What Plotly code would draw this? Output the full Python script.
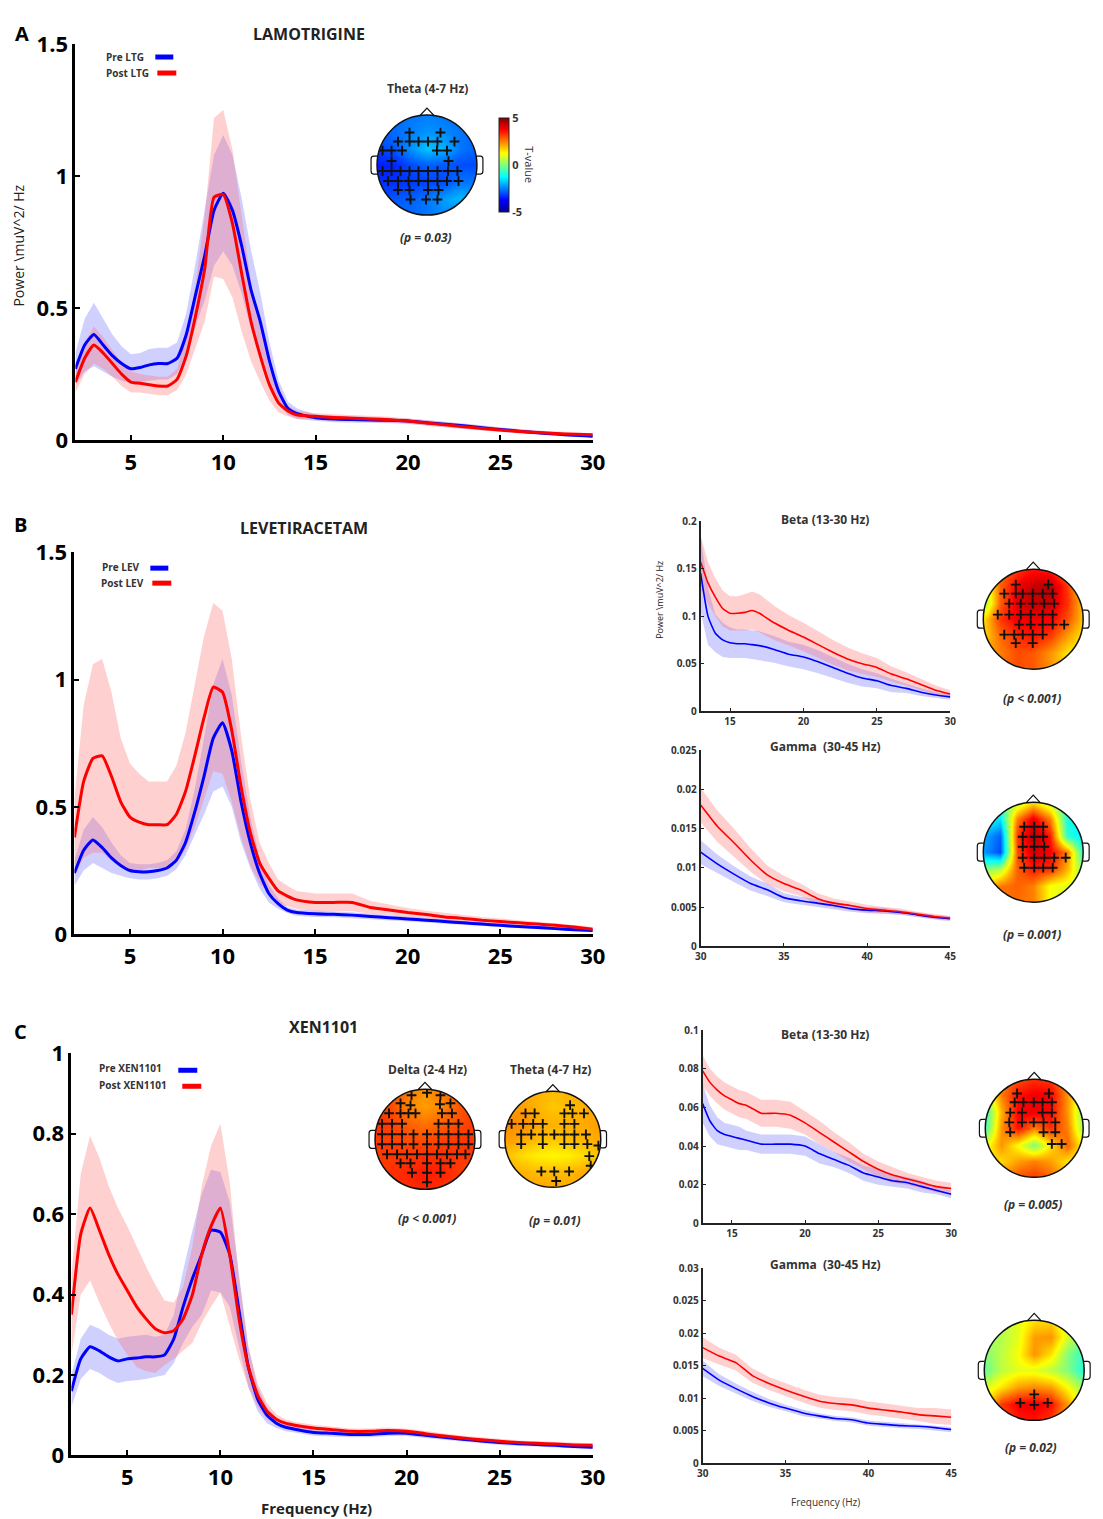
import math
import plotly.graph_objects as go

W, H = 1103, 1519
FONT = "Open Sans"

# ---------------- DATA ----------------
F_MAIN = [2, 2.5, 3, 3.5, 4, 4.5, 5, 5.5, 6, 6.5, 7, 7.5, 8, 8.5, 9, 9.5, 10, 10.5, 11, 11.5,
          12, 12.5, 13, 13.5, 14, 15, 16, 17, 18, 19, 20, 21, 22, 23, 24, 25, 26, 27, 28, 29, 30]

A_PRE = [0.27, 0.36, 0.40, 0.36, 0.32, 0.29, 0.27, 0.275, 0.285, 0.29, 0.29, 0.31, 0.40, 0.55, 0.70, 0.87,
         0.935, 0.87, 0.735, 0.57, 0.45, 0.30, 0.185, 0.12, 0.10, 0.085, 0.08, 0.078, 0.076, 0.075, 0.072,
         0.066, 0.06, 0.054, 0.047, 0.04, 0.034, 0.028, 0.023, 0.018, 0.015]
A_PRE_SEM = [0.06, 0.1, 0.12, 0.1, 0.08, 0.065, 0.055, 0.055, 0.06, 0.06, 0.06, 0.06, 0.08, 0.12, 0.17, 0.21,
             0.22, 0.21, 0.18, 0.15, 0.11, 0.07, 0.04, 0.025, 0.02, 0.012, 0.012, 0.012, 0.011, 0.011, 0.01,
             0.01, 0.01, 0.009, 0.009, 0.008, 0.008, 0.007, 0.007, 0.006, 0.006]
A_POST = [0.22, 0.31, 0.36, 0.33, 0.29, 0.25, 0.22, 0.215, 0.21, 0.205, 0.205, 0.23, 0.32, 0.47, 0.65, 0.92,
          0.93, 0.82, 0.63, 0.45, 0.32, 0.21, 0.14, 0.11, 0.095, 0.09, 0.086, 0.083, 0.08, 0.077, 0.072,
          0.065, 0.058, 0.051, 0.044, 0.038, 0.033, 0.029, 0.025, 0.022, 0.02]
A_POST_SEM = [0.04, 0.06, 0.07, 0.06, 0.05, 0.045, 0.04, 0.035, 0.035, 0.035, 0.035, 0.04, 0.07, 0.12, 0.2, 0.3,
              0.32, 0.28, 0.22, 0.15, 0.1, 0.06, 0.035, 0.02, 0.015, 0.012, 0.012, 0.012, 0.011, 0.011, 0.01,
              0.01, 0.01, 0.009, 0.009, 0.008, 0.008, 0.007, 0.007, 0.006, 0.006]

B_PRE = [0.24, 0.33, 0.37, 0.34, 0.30, 0.27, 0.25, 0.245, 0.245, 0.25, 0.26, 0.29, 0.36, 0.48, 0.62, 0.77,
         0.83, 0.72, 0.52, 0.36, 0.24, 0.16, 0.12, 0.095, 0.085, 0.08, 0.078, 0.075, 0.07, 0.065, 0.06,
         0.055, 0.05, 0.045, 0.04, 0.035, 0.03, 0.026, 0.022, 0.018, 0.015]
B_PRE_SEM = [0.05, 0.08, 0.09, 0.08, 0.06, 0.04, 0.03, 0.03, 0.03, 0.03, 0.03, 0.035, 0.05, 0.09, 0.15, 0.21,
             0.25, 0.22, 0.16, 0.1, 0.06, 0.035, 0.02, 0.012, 0.012, 0.012, 0.011, 0.011, 0.01, 0.01, 0.01,
             0.009, 0.009, 0.008, 0.008, 0.008, 0.007, 0.007, 0.006, 0.006, 0.006]
B_POST = [0.38, 0.6, 0.69, 0.70, 0.62, 0.52, 0.46, 0.44, 0.43, 0.43, 0.43, 0.47, 0.56, 0.70, 0.85, 0.97,
          0.95, 0.80, 0.58, 0.40, 0.28, 0.22, 0.17, 0.15, 0.135, 0.125, 0.125, 0.125, 0.105, 0.095, 0.085,
          0.077, 0.068, 0.062, 0.055, 0.05, 0.045, 0.04, 0.035, 0.028, 0.02]
B_POST_SEM = [0.15, 0.3, 0.37, 0.38, 0.33, 0.25, 0.21, 0.19, 0.17, 0.17, 0.17, 0.19, 0.23, 0.28, 0.32, 0.33,
              0.32, 0.28, 0.2, 0.13, 0.08, 0.06, 0.045, 0.04, 0.035, 0.035, 0.035, 0.035, 0.025, 0.02, 0.018,
              0.015, 0.015, 0.014, 0.013, 0.012, 0.011, 0.01, 0.009, 0.008, 0.008]

C_PRE = [0.16, 0.24, 0.27, 0.26, 0.245, 0.235, 0.24, 0.242, 0.245, 0.245, 0.25, 0.29, 0.37, 0.44, 0.50, 0.56,
         0.555, 0.50, 0.36, 0.22, 0.14, 0.10, 0.08, 0.07, 0.065, 0.057, 0.055, 0.052, 0.052, 0.055, 0.055,
         0.05, 0.045, 0.04, 0.036, 0.032, 0.029, 0.027, 0.025, 0.022, 0.02]
C_PRE_SEM = [0.04, 0.05, 0.055, 0.055, 0.055, 0.055, 0.055, 0.055, 0.055, 0.05, 0.05, 0.06, 0.09, 0.12, 0.15, 0.15,
             0.15, 0.13, 0.09, 0.05, 0.03, 0.02, 0.012, 0.01, 0.008, 0.008, 0.008, 0.007, 0.007, 0.007, 0.007,
             0.007, 0.006, 0.006, 0.006, 0.006, 0.005, 0.005, 0.005, 0.005, 0.005]
C_POST = [0.35, 0.55, 0.615, 0.56, 0.50, 0.45, 0.41, 0.37, 0.34, 0.315, 0.305, 0.31, 0.34, 0.40, 0.50, 0.57,
          0.615, 0.50, 0.34, 0.22, 0.15, 0.11, 0.09, 0.08, 0.075, 0.068, 0.064, 0.06, 0.06, 0.062, 0.06,
          0.054, 0.048, 0.043, 0.039, 0.035, 0.032, 0.03, 0.028, 0.026, 0.025]
C_POST_SEM = [0.1, 0.15, 0.18, 0.18, 0.17, 0.165, 0.16, 0.15, 0.13, 0.11, 0.08, 0.07, 0.08, 0.12, 0.17, 0.2,
              0.21, 0.18, 0.1, 0.05, 0.03, 0.02, 0.012, 0.01, 0.008, 0.008, 0.008, 0.007, 0.007, 0.007, 0.007,
              0.007, 0.006, 0.006, 0.006, 0.006, 0.005, 0.005, 0.005, 0.005, 0.005]

F_BETA = [13, 13.5, 14, 14.5, 15, 15.5, 16, 16.5, 17, 18, 19, 20, 21, 22, 23, 24, 25, 26, 27, 28, 29, 30]
BB_POST = [0.157, 0.135, 0.12, 0.108, 0.103, 0.103, 0.104, 0.106, 0.103, 0.093, 0.085, 0.078, 0.07, 0.062,
           0.055, 0.05, 0.046, 0.039, 0.034, 0.028, 0.022, 0.018]
BB_POST_SEM = [0.028, 0.022, 0.02, 0.019, 0.018, 0.018, 0.019, 0.02, 0.02, 0.018, 0.016, 0.015, 0.014, 0.013,
               0.012, 0.011, 0.01, 0.008, 0.007, 0.006, 0.005, 0.004]
BB_PRE = [0.145, 0.10, 0.082, 0.075, 0.072, 0.071, 0.071, 0.07, 0.069, 0.065, 0.06, 0.057, 0.052, 0.046,
          0.04, 0.035, 0.032, 0.027, 0.024, 0.02, 0.017, 0.015]
BB_PRE_SEM = [0.04, 0.03, 0.02, 0.018, 0.016, 0.015, 0.015, 0.015, 0.015, 0.014, 0.013, 0.013, 0.012, 0.011,
              0.01, 0.009, 0.008, 0.007, 0.005, 0.004, 0.003, 0.003]

CB_POST = [0.079, 0.073, 0.069, 0.066, 0.064, 0.062, 0.061, 0.059, 0.057, 0.057, 0.056, 0.052, 0.047, 0.042,
           0.037, 0.032, 0.028, 0.025, 0.023, 0.021, 0.019, 0.018]
CB_POST_SEM = [0.008, 0.007, 0.007, 0.007, 0.007, 0.007, 0.007, 0.007, 0.007, 0.007, 0.007, 0.006, 0.006,
               0.005, 0.005, 0.004, 0.004, 0.004, 0.003, 0.003, 0.003, 0.003]
CB_PRE = [0.062, 0.053, 0.048, 0.046, 0.045, 0.044, 0.043, 0.042, 0.041, 0.041, 0.041, 0.04, 0.036, 0.033,
          0.03, 0.026, 0.024, 0.022, 0.021, 0.019, 0.017, 0.015]
CB_PRE_SEM = [0.01, 0.008, 0.007, 0.006, 0.006, 0.006, 0.005, 0.005, 0.005, 0.005, 0.005, 0.005, 0.005,
              0.004, 0.004, 0.004, 0.004, 0.003, 0.003, 0.003, 0.002, 0.002]

F_GAMMA = [30, 31, 32, 33, 34, 35, 36, 37, 38, 39, 40, 41, 42, 43, 44, 45]
BG_POST = [0.018, 0.0153, 0.0132, 0.011, 0.0091, 0.008, 0.0072, 0.0061, 0.0055, 0.0052, 0.0048, 0.0046,
           0.0044, 0.0041, 0.0038, 0.0036]
BG_POST_SEM = [0.0022, 0.002, 0.0018, 0.0015, 0.0012, 0.001, 0.0008, 0.0007, 0.0006, 0.0005, 0.0005, 0.0004,
               0.0004, 0.0003, 0.0003, 0.0003]
BG_PRE = [0.012, 0.0105, 0.0092, 0.008, 0.0072, 0.0062, 0.0058, 0.0055, 0.0052, 0.0048, 0.0046, 0.0045,
          0.0043, 0.004, 0.0037, 0.0035]
BG_PRE_SEM = [0.0015, 0.0012, 0.001, 0.0009, 0.0008, 0.0006, 0.0005, 0.0005, 0.0005, 0.0004, 0.0004, 0.0004,
              0.0003, 0.0003, 0.0003, 0.0003]
CG_POST = [0.0178, 0.0165, 0.0155, 0.0135, 0.0123, 0.0113, 0.0104, 0.0096, 0.0092, 0.009, 0.0085, 0.0082,
           0.0079, 0.0075, 0.0073, 0.0071]
CG_POST_SEM = [0.0016, 0.0013, 0.0012, 0.0011, 0.001, 0.001, 0.001, 0.001, 0.001, 0.001, 0.001, 0.001,
               0.001, 0.001, 0.0012, 0.0012]
CG_PRE = [0.0146, 0.0128, 0.0115, 0.0103, 0.0093, 0.0085, 0.0078, 0.0073, 0.0069, 0.0067, 0.0062, 0.006,
          0.0058, 0.0057, 0.0055, 0.0052]
CG_PRE_SEM = [0.0012, 0.0009, 0.0008, 0.0007, 0.0006, 0.0005, 0.0005, 0.0004, 0.0004, 0.0004, 0.0004,
              0.0004, 0.0004, 0.0004, 0.0004, 0.0004]

# Topography: coarse grids of T-values (rows listed top -> bottom), electrode marks
TOPO_GRID = [-1, -0.667, -0.333, 0, 0.333, 0.667, 1]
TOPO_A_THETA = [[-2.7, -2.7, -2.6, -2.5, -2.6, -2.7, -2.7],
                [-2.8, -2.7, -2.5, -2.3, -2.4, -2.6, -2.8],
                [-3.1, -2.9, -2.3, -1.8, -2.0, -2.6, -2.8],
                [-3.5, -3.4, -3.0, -2.8, -2.9, -3.0, -3.0],
                [-3.3, -3.3, -3.2, -3.1, -3.0, -2.6, -2.6],
                [-2.9, -2.9, -2.8, -2.6, -2.2, -1.9, -2.2],
                [-2.7, -2.7, -2.7, -2.6, -2.4, -2.4, -2.6]]
TOPO_B_BETA = [[1.5, 2.5, 3.2, 3.6, 3.4, 2.5, 1.5],
               [0.3, 2.8, 3.8, 4.3, 4.5, 3.2, 1.5],
               [0.0, 2.8, 4.0, 4.4, 4.2, 3.3, 1.8],
               [1.5, 3.2, 3.9, 3.9, 3.8, 3.0, 1.8],
               [1.6, 2.7, 3.3, 3.6, 3.2, 2.2, 1.5],
               [2.0, 2.5, 3.0, 2.9, 2.3, 1.5, 1.3],
               [2.2, 2.6, 3.0, 2.9, 2.3, 1.6, 1.5]]
TOPO_B_GAMMA = [[-0.5, -0.5, 0.5, 1.5, 0.5, -0.8, -1.2],
                [-1.0, -1.5, 2.5, 4.0, 2.5, -1.0, -1.5],
                [-2.0, -2.8, 3.2, 4.5, 3.5, -0.8, -1.5],
                [-2.2, -3.0, 3.0, 4.2, 3.8, 2.5, -1.0],
                [0.0, 0.5, 2.8, 3.5, 3.3, 2.0, 0.0],
                [1.5, 2.6, 2.8, 2.5, 1.2, 1.0, 0.5],
                [2.0, 2.6, 2.7, 2.5, 1.2, 0.8, 0.5]]
TOPO_C_DELTA = [[3.1, 3.0, 2.6, 2.3, 2.6, 3.0, 3.1],
                [3.3, 3.0, 2.4, 2.2, 2.4, 2.9, 3.2],
                [3.3, 3.1, 2.8, 2.6, 2.8, 3.0, 3.2],
                [3.2, 3.1, 3.0, 3.0, 3.1, 3.2, 3.2],
                [3.2, 3.2, 3.2, 3.3, 3.3, 3.2, 3.2],
                [3.1, 3.3, 3.4, 3.5, 3.4, 3.2, 3.0],
                [3.0, 3.2, 3.3, 3.4, 3.3, 3.1, 3.0]]
TOPO_C_THETA = [[2.1, 2.1, 2.0, 1.9, 2.0, 2.1, 2.1],
                [2.2, 2.2, 2.0, 1.8, 1.9, 2.0, 2.2],
                [2.4, 2.4, 2.1, 2.0, 2.0, 2.1, 2.2],
                [2.2, 2.1, 1.9, 1.8, 1.9, 2.0, 2.1],
                [1.9, 1.6, 1.4, 1.3, 1.4, 1.6, 1.9],
                [2.1, 2.0, 1.9, 1.9, 1.9, 2.1, 2.3],
                [2.2, 2.2, 2.1, 2.1, 2.1, 2.2, 2.2]]
TOPO_C_BETA = [[1.5, 2.5, 3.0, 3.3, 3.2, 2.5, 1.5],
               [0.5, 2.5, 3.6, 3.9, 3.8, 2.3, 0.5],
               [-0.8, 2.0, 3.8, 3.9, 3.7, 2.3, 0.0],
               [-0.6, 2.3, 3.6, 2.5, 3.3, 2.5, 0.2],
               [1.0, 2.3, 1.2, 0.0, 1.5, 2.8, 1.2],
               [1.5, 1.6, 2.2, 2.5, 2.2, 1.5, 1.2],
               [1.8, 2.4, 3.0, 3.2, 2.8, 1.8, 1.5]]
TOPO_C_GAMMA = [[0.5, 0.5, 1.0, 1.5, 1.6, 0.8, 0.3],
                [0.3, 0.5, 1.0, 2.2, 2.3, 0.8, 0.0],
                [0.0, 0.6, 1.2, 2.3, 1.5, 0.0, -0.8],
                [-0.3, 0.6, 1.0, 1.0, 0.6, 0.0, -1.0],
                [0.8, 1.5, 2.2, 2.4, 2.2, 1.2, 0.2],
                [1.2, 3.2, 3.8, 3.9, 3.6, 2.2, 0.5],
                [1.2, 2.8, 3.5, 3.6, 3.2, 1.8, 0.8]]

EL_A_THETA = [(-0.35, 0.65), (0.27, 0.65),
              (-0.58, 0.47), (-0.35, 0.47), (-0.17, 0.47), (0.02, 0.47), (0.21, 0.47), (0.55, 0.47),
              (-0.89, 0.29), (-0.71, 0.29), (-0.5, 0.29), (0.2, 0.29), (0.4, 0.29),
              (-0.71, 0.08), (0.43, 0.08),
              (-0.89, -0.12), (-0.71, -0.12), (-0.53, -0.12), (-0.35, -0.12), (-0.17, -0.12), (0.02, -0.12),
              (0.21, -0.12), (0.42, -0.12), (0.61, -0.12),
              (-0.78, -0.32), (-0.58, -0.32), (-0.37, -0.32), (-0.17, -0.32), (0.02, -0.32), (0.21, -0.32),
              (0.4, -0.32), (0.63, -0.32),
              (-0.58, -0.5), (-0.35, -0.5), (0.02, -0.5), (0.23, -0.5),
              (-0.33, -0.69), (-0.02, -0.69), (0.21, -0.69)]
EL_B_BETA = [(-0.35, 0.69), (0.3, 0.69),
             (-0.58, 0.51), (-0.35, 0.51), (-0.21, 0.51), (-0.01, 0.51), (0.19, 0.51), (0.39, 0.51),
             (-0.48, 0.31), (-0.25, 0.31), (-0.01, 0.31), (0.22, 0.31), (0.42, 0.31),
             (-0.71, 0.09), (-0.48, 0.09), (-0.25, 0.09), (-0.05, 0.09), (0.19, 0.09), (0.39, 0.09),
             (-0.28, -0.11), (-0.05, -0.11), (0.19, -0.11), (0.39, -0.11), (0.62, -0.11),
             (-0.58, -0.31), (-0.38, -0.31), (-0.21, -0.31), (-0.01, -0.31), (0.19, -0.31),
             (-0.35, -0.48), (-0.01, -0.48)]
EL_B_GAMMA = [(-0.18, 0.51), (0.02, 0.51), (0.2, 0.51),
              (-0.21, 0.31), (0.02, 0.31), (0.2, 0.31),
              (-0.21, 0.11), (0.02, 0.11), (0.22, 0.11),
              (-0.21, -0.11), (0.02, -0.11), (0.22, -0.11), (0.42, -0.11), (0.65, -0.11),
              (-0.18, -0.31), (0.02, -0.31), (0.2, -0.31), (0.39, -0.31)]
EL_C_DELTA = [(0.04, 0.93), (-0.27, 0.88), (0.31, 0.88),
              (-0.49, 0.72), (-0.29, 0.68), (0.30, 0.70), (0.51, 0.72),
              (-0.72, 0.52), (-0.49, 0.52), (-0.33, 0.52), (-0.19, 0.52), (0.34, 0.52), (0.54, 0.52),
              (-0.86, 0.31), (-0.66, 0.31), (-0.46, 0.31), (0.27, 0.31), (0.47, 0.31), (0.67, 0.31),
              (-0.86, 0.10), (-0.66, 0.10), (-0.46, 0.10), (-0.23, 0.10), (0.04, 0.10), (0.27, 0.10),
              (0.47, 0.10), (0.67, 0.10), (0.87, 0.10),
              (-0.86, -0.10), (-0.66, -0.10), (-0.46, -0.10), (-0.23, -0.10), (0.04, -0.10), (0.27, -0.10),
              (0.47, -0.10), (0.67, -0.10), (0.87, -0.10),
              (-0.76, -0.30), (-0.56, -0.30), (-0.36, -0.30), (-0.16, -0.30), (0.04, -0.30), (0.24, -0.30),
              (0.44, -0.30), (0.64, -0.30), (0.81, -0.30),
              (-0.49, -0.48), (-0.29, -0.48), (0.04, -0.48), (0.31, -0.48), (0.51, -0.48),
              (-0.26, -0.67), (0.04, -0.67), (0.31, -0.67),
              (0.04, -0.86)]
EL_C_THETA = [(0.36, 0.71),
              (-0.57, 0.54), (-0.38, 0.54), (0.24, 0.54), (0.41, 0.54), (0.65, 0.54),
              (-0.86, 0.32), (-0.62, 0.32), (-0.41, 0.32), (-0.21, 0.32), (0.24, 0.32), (0.45, 0.32),
              (-0.66, 0.10), (-0.45, 0.10), (-0.21, 0.10), (0.03, 0.10), (0.24, 0.10), (0.45, 0.10), (0.69, 0.10),
              (-0.66, -0.10), (-0.21, -0.10), (0.24, -0.10), (0.45, -0.10), (0.72, -0.10), (0.95, -0.13),
              (0.76, -0.35), (0.79, -0.55),
              (-0.24, -0.67), (0.03, -0.67), (0.34, -0.67),
              (0.07, -0.87)]
EL_C_BETA = [(-0.35, 0.71), (0.30, 0.71),
             (-0.40, 0.53), (-0.22, 0.53), (-0.01, 0.53), (0.17, 0.53), (0.36, 0.53),
             (-0.49, 0.32), (-0.25, 0.32), (0.17, 0.32), (0.36, 0.32),
             (-0.51, 0.12), (-0.25, 0.12), (-0.01, 0.12), (0.19, 0.12), (0.43, 0.12),
             (-0.49, -0.08), (0.19, -0.08), (0.43, -0.08),
             (0.36, -0.32), (0.56, -0.32)]
EL_C_GAMMA = [(0.0, -0.48), (-0.28, -0.65), (0.0, -0.69), (0.27, -0.65)]

# MATLAB-style jet
JET = [[0, "rgb(0,0,143)"], [0.125, "rgb(0,0,255)"], [0.375, "rgb(0,255,255)"],
       [0.625, "rgb(255,255,0)"], [0.875, "rgb(255,0,0)"], [1, "rgb(128,0,0)"]]

# ---------------- FIGURE ----------------
fig = go.Figure()
layout = {}
shapes = []
annotations = []

PRE_LINE = "rgb(0,0,255)"
POST_LINE = "rgb(255,0,0)"
PRE_BAND = "rgba(100,100,255,0.30)"
POST_BAND = "rgba(255,100,100,0.30)"

# page placement compensation (observed render offset/scale)
SX, OX = 0.984, 13.5
SY, OY = 0.98, 24.0


def PX(x):
    return (x - OX) / SX


def PY(y):
    return (y - OY) / SY


def xdom(x0, x1):
    return [max(0, PX(x0) / W), min(1, PX(x1) / W)]


def ydom(y0, y1):
    return [max(0, 1 - PY(y1) / H), min(1, 1 - PY(y0) / H)]


def set_axes(i, xd, yd, xo, yo):
    s = "" if i == 1 else str(i)
    layout["xaxis" + s] = dict(domain=xd, anchor="y" + s, **xo)
    layout["yaxis" + s] = dict(domain=yd, anchor="x" + s, **yo)


def axref(i):
    return ("x" if i == 1 else "x%d" % i), ("y" if i == 1 else "y%d" % i)


def add_band_lines(i, f, pre, pre_sem, post, post_sem, lw):
    xr, yr = axref(i)
    for mean, sem, band in ((pre, pre_sem, PRE_BAND), (post, post_sem, POST_BAND)):
        up = [m + s for m, s in zip(mean, sem)]
        lo = [m - s for m, s in zip(mean, sem)]
        fig.add_trace(go.Scatter(x=list(f) + list(f)[::-1], y=up + lo[::-1], fill="toself",
                                 fillcolor=band, line=dict(width=0), mode="lines",
                                 hoverinfo="skip", showlegend=False, xaxis=xr, yaxis=yr))
    for mean, col in ((pre, PRE_LINE), (post, POST_LINE)):
        fig.add_trace(go.Scatter(x=f, y=mean, mode="lines",
                                 line=dict(color=col, width=lw, shape="spline", smoothing=0.5),
                                 showlegend=False, xaxis=xr, yaxis=yr))


def main_axes(i, box, yrange, dtick):
    x0, y0, x1, y1 = box
    tf = dict(family=FONT, size=22, color="black", weight="bold")
    xo = dict(range=[2, 30], tickvals=[5, 10, 15, 20, 25, 30], showline=True, linecolor="black",
              linewidth=3, ticks="inside", ticklen=5, tickwidth=2, tickcolor="black",
              showgrid=False, zeroline=False, tickfont=tf)
    yo = dict(range=yrange, dtick=dtick, tick0=0, showline=True, linecolor="black", linewidth=3,
              ticks="inside", ticklen=5, tickwidth=2, tickcolor="black", showgrid=False,
              zeroline=False, tickfont=tf)
    set_axes(i, xdom(x0, x1), ydom(y0, y1), xo, yo)


def small_axes(i, box, xrange, xticks, yrange, dtick):
    x0, y0, x1, y1 = box
    tf = dict(family=FONT, size=10, color="#333", weight="bold")
    xo = dict(range=xrange, tickvals=xticks, showline=True, linecolor="#222", linewidth=2,
              ticks="inside", ticklen=3, tickwidth=1, tickcolor="#222", showgrid=False,
              zeroline=False, tickfont=tf)
    yo = dict(range=yrange, dtick=dtick, tick0=0, showline=True, linecolor="#222", linewidth=2,
              ticks="inside", ticklen=3, tickwidth=1, tickcolor="#222", showgrid=False,
              zeroline=False, tickfont=tf)
    set_axes(i, xdom(x0, x1), ydom(y0, y1), xo, yo)


# main panels
main_axes(1, (75, 44, 593, 440), [0, 1.5], 0.5)
add_band_lines(1, F_MAIN, A_PRE, A_PRE_SEM, A_POST, A_POST_SEM, 3)
main_axes(2, (74, 552, 593, 934), [0, 1.5], 0.5)
add_band_lines(2, F_MAIN, B_PRE, B_PRE_SEM, B_POST, B_POST_SEM, 3)
main_axes(3, (71, 1053, 593, 1455), [0, 1.0], 0.2)
add_band_lines(3, F_MAIN, C_PRE, C_PRE_SEM, C_POST, C_POST_SEM, 3)

# small panels
small_axes(4, (701, 521, 951, 711), [13, 30], [15, 20, 25, 30], [0, 0.2], 0.05)
add_band_lines(4, F_BETA, BB_PRE, BB_PRE_SEM, BB_POST, BB_POST_SEM, 1.6)
small_axes(5, (701, 750, 951, 946), [30, 45], [30, 35, 40, 45], [0, 0.025], 0.005)
add_band_lines(5, F_GAMMA, BG_PRE, BG_PRE_SEM, BG_POST, BG_POST_SEM, 1.6)
small_axes(6, (703, 1030, 952, 1223), [13, 30], [15, 20, 25, 30], [0, 0.1], 0.02)
add_band_lines(6, F_BETA, CB_PRE, CB_PRE_SEM, CB_POST, CB_POST_SEM, 1.6)
small_axes(7, (703, 1268, 952, 1463), [30, 45], [30, 35, 40, 45], [0, 0.03], 0.005)
add_band_lines(7, F_GAMMA, CG_PRE, CG_PRE_SEM, CG_POST, CG_POST_SEM, 1.6)

# topographic maps
CIRC = [(math.cos(2 * math.pi * k / 96), math.sin(2 * math.pi * k / 96)) for k in range(96)]
M = 1.2
mask_path = "M %f,%f L %f,%f L %f,%f L %f,%f Z " % (-M, -M, M, -M, M, M, -M, M)
mask_path += "M " + " L ".join("%f,%f" % (c, s) for c, s in CIRC) + " Z"


def add_topo(i, cx, cy, r, grid_rows, electrodes, showscale=False):
    half = 1.25 * r
    ax_opts = dict(range=[-1.25, 1.25], visible=False, showgrid=False, zeroline=False, fixedrange=True)
    set_axes(i, xdom(cx - half, cx + half), ydom(cy - half, cy + half), dict(ax_opts), dict(ax_opts))
    xr, yr = axref(i)
    hm = dict(x=TOPO_GRID, y=TOPO_GRID, z=grid_rows[::-1], colorscale=JET, zmin=-5, zmax=5,
              zsmooth="best", showscale=showscale, hoverinfo="skip", xaxis=xr, yaxis=yr)
    if showscale:
        hm["colorbar"] = dict(x=PX(499) / W, xanchor="left", y=1 - PY(165) / H, yanchor="middle",
                              len=(94 / SY) / H, lenmode="fraction", thickness=10, thicknessmode="pixels",
                              tickvals=[-5, 0, 5], ticktext=["-5", "0", "5"], ticks="",
                              outlinewidth=1, outlinecolor="#222",
                              tickfont=dict(family=FONT, size=11, color="#333", weight="bold"),
                              xpad=0, ypad=0)
    fig.add_trace(go.Heatmap(**hm))
    fig.add_trace(go.Scatter(x=[e[0] for e in electrodes], y=[e[1] for e in electrodes], mode="markers",
                             marker=dict(symbol="cross-thin", size=7, line=dict(width=1.9, color="#111")),
                             hoverinfo="skip", showlegend=False, xaxis=xr, yaxis=yr))
    shapes.append(dict(type="path", path=mask_path, xref=xr, yref=yr, fillcolor="white",
                       fillrule="evenodd", line=dict(width=0), layer="above"))
    shapes.append(dict(type="circle", x0=-1, x1=1, y0=-1, y1=1, xref=xr, yref=yr,
                       line=dict(color="#111", width=1.5), layer="above"))
    shapes.append(dict(type="path", path="M -0.14,0.99 L 0,1.14 L 0.14,0.99", xref=xr, yref=yr,
                       line=dict(color="#111", width=1.2), layer="above"))
    for sgn in (1, -1):
        p = "M %f,0.18 L %f,0.18 Q %f,0.18 %f,0.12 L %f,-0.12 Q %f,-0.18 %f,-0.18 L %f,-0.18" % (
            sgn * 0.99, sgn * 1.07, sgn * 1.12, sgn * 1.12, sgn * 1.12, sgn * 1.12, sgn * 1.07, sgn * 0.99)
        shapes.append(dict(type="path", path=p, xref=xr, yref=yr, line=dict(color="#111", width=1.2),
                           layer="above"))


add_topo(8, 427, 165, 50, TOPO_A_THETA, EL_A_THETA, showscale=True)
add_topo(9, 1034, 619, 50, TOPO_B_BETA, EL_B_BETA)
add_topo(10, 1034, 852, 50, TOPO_B_GAMMA, EL_B_GAMMA)
add_topo(11, 425, 1139, 50, TOPO_C_DELTA, EL_C_DELTA)
add_topo(12, 553, 1139, 48, TOPO_C_THETA, EL_C_THETA)
add_topo(13, 1035, 1128, 49, TOPO_C_BETA, EL_C_BETA)
add_topo(14, 1035, 1370, 50, TOPO_C_GAMMA, EL_C_GAMMA)


def ann(text, x, y, size, color="#222", bold=True, italic=False, angle=0, xanchor="center"):
    yy = max(PY(y), 10)
    annotations.append(dict(text=text, x=PX(x) / W, y=1 - yy / H, xref="paper", yref="paper", showarrow=False,
                            font=dict(family=FONT, size=size, color=color,
                                      weight="bold" if bold else "normal",
                                      style="italic" if italic else "normal"),
                            textangle=angle, xanchor=xanchor, yanchor="middle"))


def swatch(x0, x1, y, color):
    shapes.append(dict(type="line", xref="paper", yref="paper", x0=PX(x0) / W, x1=PX(x1) / W,
                       y0=1 - PY(y) / H, y1=1 - PY(y) / H, line=dict(color=color, width=5)))


# panel letters and titles
ann("A", 22, 16, 20, color="black")
ann("B", 20, 524, 20, color="black")
ann("C", 20, 1031, 20, color="black")
ann("LAMOTRIGINE", 309, 19, 16)
ann("LEVETIRACETAM", 304, 528, 16)
ann("XEN1101", 323, 1027, 16)
ann("Power \\muV^2/ Hz", 18, 245, 14, bold=False, angle=-90)
ann("Power \\muV^2/ Hz", 659, 600, 9, bold=False, angle=-90)

# legends
ann("Pre LTG", 104, 57, 10, color="#333", xanchor="left")
ann("Post LTG", 104, 73, 10, color="#333", xanchor="left")
swatch(155, 173, 57, PRE_LINE)
swatch(157, 176, 73, POST_LINE)
ann("Pre LEV", 100, 567, 10, color="#333", xanchor="left")
ann("Post LEV", 99, 583, 10, color="#333", xanchor="left")
swatch(150, 168, 568, PRE_LINE)
swatch(152, 171, 583, POST_LINE)
ann("Pre XEN1101", 97, 1068, 10, color="#333", xanchor="left")
ann("Post XEN1101", 97, 1085, 10, color="#333", xanchor="left")
swatch(178, 197, 1070, PRE_LINE)
swatch(182, 201, 1086, POST_LINE)

# topomap titles and p-values
ann("Theta (4-7 Hz)", 428, 88, 12, color="#333")
ann("(p = 0.03)", 426, 237, 12, color="#333", italic=True)
ann("T-value", 530, 165, 11, color="#333", bold=False, angle=90)
ann("Beta (13-30 Hz)", 826, 519, 12, color="#333")
ann("(p < 0.001)", 1033, 698, 12, color="#333", italic=True)
ann("Gamma\u00a0 (30-45 Hz)", 826, 746, 12, color="#333")
ann("(p = 0.001)", 1033, 934, 12, color="#333", italic=True)
ann("Delta (2-4 Hz)", 428, 1069, 12, color="#333")
ann("Theta (4-7 Hz)", 551, 1069, 12, color="#333")
ann("(p < 0.001)", 427, 1218, 12, color="#333", italic=True)
ann("(p = 0.01)", 555, 1220, 12, color="#333", italic=True)
ann("Beta (13-30 Hz)", 826, 1034, 12, color="#333")
ann("(p = 0.005)", 1034, 1204, 12, color="#333", italic=True)
ann("Gamma\u00a0 (30-45 Hz)", 826, 1264, 12, color="#333")
ann("(p = 0.02)", 1032, 1447, 12, color="#333", italic=True)
ann("Frequency (Hz)", 316, 1508, 15, color="#222")
ann("Frequency (Hz)", 826, 1502, 10, color="#333", bold=False)

layout.update(dict(width=W, height=H, margin=dict(l=0, r=0, t=0, b=0), paper_bgcolor="white",
                   plot_bgcolor="rgba(0,0,0,0)", showlegend=False, shapes=shapes, annotations=annotations,
                   font=dict(family=FONT)))
fig.update_layout(**layout)
fig.write_html("out.html")
